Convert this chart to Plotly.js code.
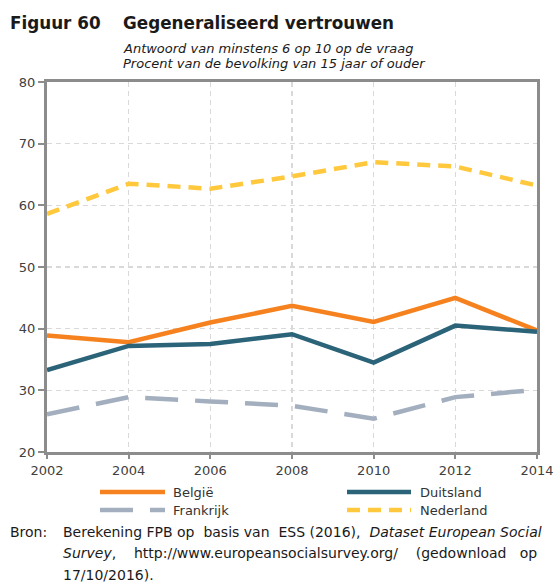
<!DOCTYPE html>
<html>
<head>
<meta charset="utf-8">
<script src="https://cdn.plot.ly/plotly-3.0.1.min.js"></script>
<style>html,body{margin:0;padding:0;background:#fff;}#chart{width:556px;height:586px;}</style>
</head>
<body>
<div id="chart"></div>
<script>
// ---- data ----
const years = [2002, 2004, 2006, 2008, 2010, 2012, 2014];
const belgie = [38.9, 37.8, 41.0, 43.7, 41.1, 45.0, 39.7];
const duitsland = [33.3, 37.2, 37.5, 39.1, 34.5, 40.5, 39.5];
const frankrijk = [26.1, 28.9, 28.2, 27.5, 25.4, 28.9, 30.1];
const nederland = [58.6, 63.5, 62.7, 64.7, 67.0, 66.3, 63.2];
const seriesNames = ["België", "Duitsland", "Frankrijk", "Nederland"];
const yTicks = [20, 30, 40, 50, 60, 70, 80];

const FONT = "DejaVu Sans, Verdana, sans-serif";
const colors = ["#F5821F", "#2B6379", "#A3AFBF", "#FFC83D"];
const dashes = ["solid", "solid", "33px,17px", "13px,8px"];
const allData = [belgie, duitsland, frankrijk, nederland];

const W = 556, H = 586;
const M = {l: 47, r: 19, t: 82, b: 134};
const pw = W - M.l - M.r, ph = H - M.t - M.b;
const px = x => (x - M.l) / pw;
const py = y => (H - M.b - y) / ph;

const traces = allData.map((d, i) => ({
  x: years, y: d, name: seriesNames[i], type: "scatter", mode: "lines",
  line: {color: colors[i], width: 4.5, dash: dashes[i]},
  showlegend: false, hoverinfo: "skip"
}));

// legend (manual)
const legendItems = [
  {i: 0, x0: 100, x1: 165, y: 492, tx: 171},
  {i: 1, x0: 347, x1: 411, y: 492, tx: 418},
  {i: 2, x0: 100, x1: 165, y: 510, tx: 171},
  {i: 3, x0: 347, x1: 411, y: 510, tx: 418}
];
const shapes = legendItems.map(it => ({
  type: "line", xref: "paper", yref: "paper",
  x0: px(it.x0), x1: px(it.x1), y0: py(it.y), y1: py(it.y),
  line: {color: colors[it.i], width: 4.5, dash: dashes[it.i]}
}));
const annotations = legendItems.map(it => ({
  xref: "paper", yref: "paper", x: px(it.tx), y: py(it.y),
  xanchor: "left", yanchor: "middle", showarrow: false,
  text: seriesNames[it.i], font: {family: FONT, size: 13, color: "#333333"}
}));

function txt(t, x, y, size, opts) {
  annotations.push(Object.assign({
    xref: "paper", yref: "paper", x: px(x), y: py(y),
    xanchor: "left", yanchor: "middle", showarrow: false, text: t,
    font: {family: FONT, size: size, color: "#1a1a1a"}
  }, opts || {}));
}
txt("<b>Figuur 60</b>", 8, 23, 16.8);
txt("<b>Gegeneraliseerd vertrouwen</b>", 121, 23, 16.8);
txt("<i>Antwoord van minstens 6 op 10 op de vraag</i>", 121, 48, 13);
txt("<i>Procent van de bevolking van 15 jaar of ouder</i>", 121, 63, 13);
txt("Bron:", 8, 532, 14);
txt("Berekening FPB op&nbsp; basis van&nbsp; ESS (2016),&nbsp; <i>Dataset European Social</i>", 61, 532, 14);
txt("<i>Survey</i>,&nbsp;&nbsp;&nbsp; http://www.europeansocialsurvey.org/&nbsp;&nbsp;&nbsp; (gedownload&nbsp;&nbsp; op", 61, 553, 14);
txt("17/10/2016).", 61, 575, 14);

const layout = {
  width: W, height: H,
  margin: M,
  paper_bgcolor: "#ffffff", plot_bgcolor: "#ffffff",
  showlegend: false,
  xaxis: {
    range: [2002, 2014], tickvals: years, ticktext: years.map(String),
    showline: true, mirror: true, linecolor: "#8c8c8c", linewidth: 3,
    showgrid: true, gridcolor: "#d9d9d9", gridwidth: 1.2, griddash: "5px,4px",
    ticks: "outside", ticklen: 4, tickwidth: 2, tickcolor: "#8c8c8c",
    tickfont: {family: FONT, size: 13, color: "#404040"},
    zeroline: false, fixedrange: true
  },
  yaxis: {
    range: [20, 80], tickvals: yTicks,
    showline: true, mirror: true, linecolor: "#8c8c8c", linewidth: 3,
    showgrid: true, gridcolor: "#d9d9d9", gridwidth: 1.2, griddash: "5px,4px",
    ticks: "outside", ticklen: 6, tickwidth: 2, tickcolor: "#8c8c8c",
    tickfont: {family: FONT, size: 13, color: "#404040"},
    zeroline: false, fixedrange: true
  },
  shapes: shapes,
  annotations: annotations
};

Plotly.newPlot("chart", traces, layout, {displayModeBar: false, staticPlot: true});
</script>
</body>
</html>
